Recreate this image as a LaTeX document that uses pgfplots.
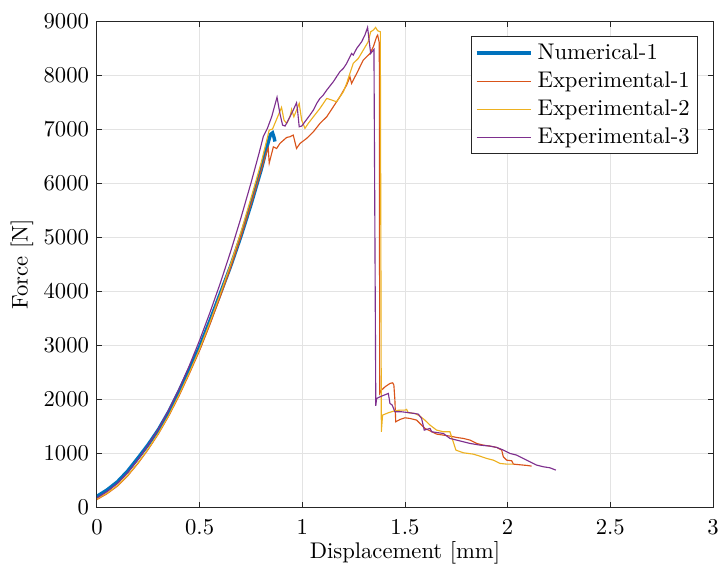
\documentclass[border=0pt]{standalone}
\usepackage{pgfplots}
\pgfplotsset{compat=1.18}

\definecolor{mblue}{rgb}{0,0.447,0.741}
\definecolor{mred}{rgb}{0.85,0.325,0.098}
\definecolor{myellow}{rgb}{0.929,0.694,0.125}
\definecolor{mpurple}{rgb}{0.494,0.184,0.556}
\definecolor{axcol}{rgb}{0.15,0.15,0.15}

\begin{document}
\begin{tikzpicture}
\begin{axis}[
    scale only axis,
    width=272pt, height=214.6pt,
    xmin=0, xmax=3,
    ymin=0, ymax=9000,
    xtick={0,0.5,1,1.5,2,2.5,3},
    ytick={0,1000,2000,3000,4000,5000,6000,7000,8000,9000},
    scaled y ticks=false,
    /pgf/number format/1000 sep={},
    xlabel={Displacement [mm]},
    ylabel={Force [N]},
    xlabel style={at={(axis description cs:0.5,-0.095)}, anchor=center},
    ylabel style={at={(axis description cs:-0.1217,0.5)}, anchor=center},
    xticklabel style={yshift=-2.3pt},
    tick align=inside,
    major tick length=2.4pt,
    axis line style={axcol, line width=0.4pt},
    tick style={axcol, line width=0.4pt},
    xmajorgrids=true, ymajorgrids=true,
    grid style={gray!22, line width=0.4pt},
    legend cell align=left,
    legend style={at={(0.9757,0.969)}, anchor=north east, draw=axcol,
        line width=0.4pt, row sep=0pt, inner xsep=1.5pt, inner ysep=1pt},
    legend image code/.code={\draw[#1] (0cm,0cm) -- (0.85cm,0cm);},
]
\addplot[mblue, line width=1.5pt] coordinates {
    (0,200) (0.05,320) (0.1,470) (0.15,670) (0.2,910) (0.25,1160)
    (0.3,1440) (0.35,1770) (0.4,2150) (0.45,2550) (0.5,2970)
    (0.55,3450) (0.6,3950) (0.65,4450) (0.7,5000) (0.75,5600)
    (0.8,6250) (0.83,6700) (0.845,6900) (0.855,6930) (0.862,6850)
    (0.867,6770)
};
\addlegendentry{Numerical-1}

\addplot[mred, line width=0.5pt] coordinates {
    (0,140) (0.05,250) (0.1,390) (0.15,580) (0.2,810) (0.25,1070)
    (0.3,1360) (0.35,1690) (0.4,2060) (0.45,2470) (0.5,2900)
    (0.55,3380) (0.6,3890) (0.65,4420) (0.7,4990) (0.75,5600)
    (0.8,6240) (0.825,6560) (0.834,6650) (0.839,6370) (0.859,6670)
    (0.875,6640) (0.891,6735) (0.924,6846) (0.94,6858) (0.956,6889)
    (0.972,6642) (0.989,6735) (1.021,6827) (1.054,6950) (1.086,7105)
    (1.119,7228) (1.151,7413) (1.183,7598) (1.216,7815) (1.232,7969)
    (1.24,7846) (1.265,8031) (1.297,8278) (1.33,8401) (1.346,8524)
    (1.362,8710) (1.367,8740) (1.375,8600) (1.377,2105)
    (1.386,2167) (1.403,2228) (1.427,2290) (1.44,2302) (1.446,2259)
    (1.451,1981) (1.455,1580) (1.476,1623) (1.5,1654) (1.524,1642)
    (1.557,1611) (1.581,1519) (1.597,1457) (1.622,1413) (1.654,1352)
    (1.687,1333) (1.719,1315) (1.752,1290) (1.784,1272) (1.817,1241)
    (1.849,1179) (1.881,1148) (1.914,1130) (1.947,1105) (1.971,1056)
    (1.979,932) (1.995,870) (2.02,858) (2.028,796) (2.06,784)
    (2.093,772) (2.117,759)
};
\addlegendentry{Experimental-1}

\addplot[myellow, line width=0.5pt] coordinates {
    (0,150) (0.05,260) (0.1,400) (0.15,590) (0.2,820) (0.25,1080)
    (0.3,1370) (0.35,1700) (0.4,2080) (0.45,2490) (0.5,2930)
    (0.55,3420) (0.6,3940) (0.65,4490) (0.7,5080) (0.75,5720)
    (0.8,6380) (0.839,6981) (0.855,7000) (0.899,7401) (0.911,7167)
    (0.924,7105) (0.94,7228) (0.948,7364) (0.959,7228) (0.972,7352)
    (0.985,7475) (0.997,7167) (1.013,7013) (1.029,7105) (1.054,7228)
    (1.086,7383) (1.119,7568) (1.135,7549) (1.167,7506) (1.2,7691)
    (1.216,7846) (1.232,8031) (1.248,8216) (1.273,8309) (1.297,8463)
    (1.321,8617) (1.333,8802) (1.346,8833) (1.357,8883) (1.367,8821)
    (1.38,8802) (1.385,1395) (1.391,1704) (1.419,1747) (1.451,1784)
    (1.476,1796) (1.5,1796) (1.508,1809) (1.516,1747) (1.549,1734)
    (1.573,1685) (1.597,1611) (1.622,1519) (1.654,1426) (1.687,1395)
    (1.719,1395) (1.735,1210) (1.748,1056) (1.784,1006) (1.833,981)
    (1.865,944) (1.898,901) (1.93,870) (1.963,809) (1.995,796)
    (2.028,796)
};
\addlegendentry{Experimental-2}

\addplot[mpurple, line width=0.5pt] coordinates {
    (0,170) (0.05,290) (0.1,440) (0.15,640) (0.2,880) (0.25,1150)
    (0.3,1450) (0.35,1800) (0.4,2190) (0.45,2620) (0.5,3090)
    (0.55,3600) (0.6,4140) (0.65,4720) (0.7,5340) (0.75,6000)
    (0.79,6560) (0.81,6860) (0.83,7013) (0.851,7228) (0.877,7590)
    (0.891,7290) (0.904,7074) (0.916,7056) (0.932,7167) (0.956,7352)
    (0.972,7487) (0.976,7383) (0.985,7043) (0.997,7056) (1.013,7136)
    (1.037,7259) (1.054,7352) (1.07,7475) (1.086,7568) (1.102,7630)
    (1.119,7722) (1.151,7877) (1.183,8062) (1.2,8123) (1.216,8216)
    (1.24,8401) (1.248,8370) (1.265,8494) (1.289,8617) (1.305,8741)
    (1.318,8883) (1.333,8401) (1.349,8475) (1.358,1877) (1.362,2012)
    (1.386,2055) (1.419,2105) (1.427,1920) (1.438,1889) (1.451,1765)
    (1.484,1765) (1.524,1747) (1.565,1722) (1.581,1642) (1.594,1426)
    (1.622,1457) (1.63,1395) (1.687,1364) (1.719,1272) (1.752,1241)
    (1.817,1179) (1.865,1148) (1.914,1130) (1.947,1105) (1.979,1056)
    (2.011,994) (2.044,963) (2.076,901) (2.109,839) (2.141,778)
    (2.174,747) (2.206,728) (2.235,685)
};
\addlegendentry{Experimental-3}
\end{axis}
\pgfresetboundingbox
\useasboundingbox (-42.8pt,-28.7pt) rectangle (275.1pt,223.9pt);
\end{tikzpicture}
\end{document}
